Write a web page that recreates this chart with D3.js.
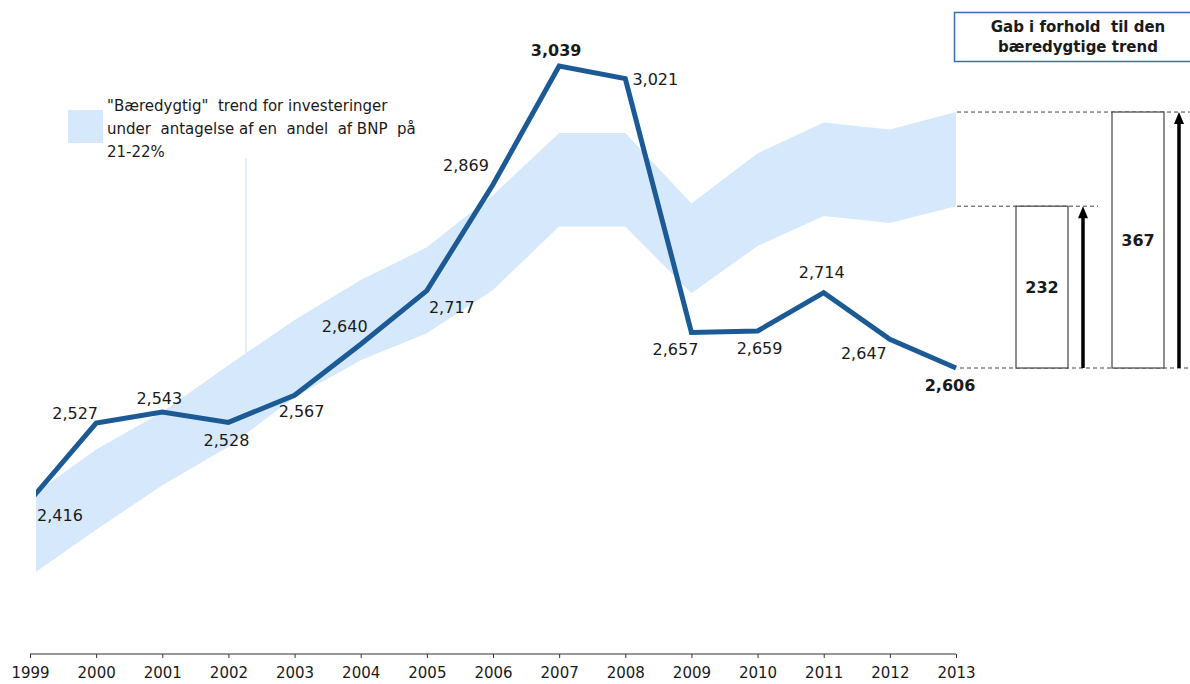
<!DOCTYPE html>
<html>
<head>
<meta charset="utf-8">
<script src="https://cdn.jsdelivr.net/npm/d3@7"></script>
<style>
  body { margin: 0; background: #fff; }
  svg text { font-family: "DejaVu Sans", Verdana, sans-serif; fill: #1a1a1a; }
</style>
</head>
<body>
<svg id="chart" width="1190" height="684"></svg>
<script>
const years = ["1999","2000","2001","2002","2003","2004","2005","2006","2007","2008","2009","2010","2011","2012","2013"];
const investments = [2416, 2527, 2543, 2528, 2567, 2640, 2717, 2869, 3039, 3021, 2657, 2659, 2714, 2647, 2606];
const trendLow = [2308, 2374, 2438, 2493, 2564, 2617, 2656, 2718, 2809, 2809, 2713, 2781, 2824, 2814, 2838];
const trendHigh = [2421, 2489, 2543, 2610, 2675, 2732, 2779, 2854, 2943, 2943, 2842, 2914, 2958, 2948, 2973];
// label offsets relative to each point [dx, dy]
const labelOffsets = [[30,15],[-21,-10],[-3,-14],[-2,18],[7,16],[-16,-18],[25,17],[-27,-19],[-3,-16],[30,1],[-16,17],[2,17],[-2,-20],[-26,14],[-6,17]];
const boldYears = ["2007", "2013"];
const legendLines = ["\"Bæredygtig\"  trend for investeringer", "under  antagelse af en  andel  af BNP  på", "21-22%"];
const gapTitle = ["Gab i forhold  til den", "bæredygtige trend"];

const svg = d3.select("#chart");
const x = d3.scalePoint().domain(years).range([30, 956]);
const y = d3.scaleLinear().domain([2606, 3039]).range([368, 66]);

const bandColor = "#d6e8fc";
const lineColor = "#1c5a96";

svg.append("defs").append("clipPath").attr("id", "plotClip")
  .append("rect").attr("x", 36).attr("y", 0).attr("width", 921).attr("height", 660);

const plot = svg.append("g").attr("clip-path", "url(#plotClip)");

// sustainable trend band
const area = d3.area()
  .x((d, i) => x(years[i]))
  .y0((d, i) => y(trendLow[i]))
  .y1((d) => y(d));
plot.append("path").datum(trendHigh).attr("d", area).attr("fill", bandColor);

// legend leader line
svg.append("line")
  .attr("x1", 246).attr("x2", 246).attr("y1", 158).attr("y2", 353)
  .attr("stroke", bandColor).attr("stroke-width", 1.5);

// investment line
const line = d3.line().x((d, i) => x(years[i])).y((d) => y(d));
plot.append("path").datum(investments).attr("d", line)
  .attr("fill", "none").attr("stroke", lineColor)
  .attr("stroke-width", 5).attr("stroke-linejoin", "miter");

// data labels
svg.selectAll(".lbl").data(investments).enter().append("text")
  .attr("class", "lbl")
  .attr("x", (d, i) => x(years[i]) + labelOffsets[i][0])
  .attr("y", (d, i) => y(d) + labelOffsets[i][1])
  .attr("text-anchor", "middle")
  .attr("dy", "0.35em")
  .attr("font-size", 16)
  .attr("font-weight", (d, i) => boldYears.includes(years[i]) ? "bold" : "normal")
  .text((d) => d3.format(",")(d));

// x axis
const xAxis = d3.axisBottom(x).tickSize(4).tickSizeOuter(0);
const ax = svg.append("g").attr("transform", "translate(0,654)").call(xAxis);
ax.select(".domain").attr("stroke", "#333").attr("stroke-width", 1.2).attr("d", "M30,0H956");
ax.selectAll(".tick line").attr("stroke", "#333");
ax.selectAll(".tick text").attr("font-size", 15).attr("y", 10).attr("dy", "0.95em")
  .style("font-family", "DejaVu Sans, Verdana, sans-serif").attr("fill", "#1a1a1a");

// legend
svg.append("rect").attr("x", 68).attr("y", 110).attr("width", 35).attr("height", 33).attr("fill", bandColor);
svg.append("g").selectAll("text").data(legendLines).enter().append("text")
  .attr("x", 107).attr("y", (d, i) => 111 + i * 23)
  .attr("font-size", 15).style("white-space", "pre").attr("xml:space", "preserve")
  .text((d) => d);

// gap panel
const last = investments.length - 1;
const base = investments[last];
const gaps = [
  { value: trendLow[last], x0: 1016, x1: 1068, ax: 1083, dashEnd: 1098 },
  { value: trendHigh[last], x0: 1112, x1: 1164, ax: 1179, dashEnd: 1190 }
];

svg.append("rect").attr("x", 954.5).attr("y", 12.5).attr("width", 260).attr("height", 49)
  .attr("fill", "#fff").attr("stroke", "#3a6eaa").attr("stroke-width", 1.5);
svg.append("g").selectAll("text").data(gapTitle).enter().append("text")
  .attr("x", 1078).attr("y", (d, i) => 32 + i * 20)
  .attr("text-anchor", "middle").attr("font-size", 15).attr("font-weight", "bold")
  .style("white-space", "pre").attr("xml:space", "preserve")
  .text((d) => d);

const dash = (x1, x2, yy) => svg.append("line")
  .attr("x1", x1).attr("x2", x2).attr("y1", yy).attr("y2", yy)
  .attr("stroke", "#444").attr("stroke-width", 1).attr("stroke-dasharray", "4,3");

dash(960, 1190, y(base));
gaps.forEach((g) => {
  const top = y(g.value);
  dash(957, g.dashEnd, top);
  svg.append("rect").attr("x", g.x0).attr("y", top)
    .attr("width", g.x1 - g.x0).attr("height", y(base) - top)
    .attr("fill", "#fff").attr("stroke", "#444").attr("stroke-width", 1.2);
  svg.append("line").attr("x1", g.ax).attr("x2", g.ax)
    .attr("y1", y(base)).attr("y2", top + 10)
    .attr("stroke", "#000").attr("stroke-width", 3.5);
  svg.append("path")
    .attr("d", `M${g.ax},${top} L${g.ax + 5},${top + 12} L${g.ax - 5},${top + 12} Z`)
    .attr("fill", "#000");
  svg.append("text").attr("x", (g.x0 + g.x1) / 2)
    .attr("y", (y(base) + top) / 2)
    .attr("text-anchor", "middle").attr("dy", "0.35em")
    .attr("font-size", 16).attr("font-weight", "bold")
    .text(g.value - base);
});
</script>
</body>
</html>
